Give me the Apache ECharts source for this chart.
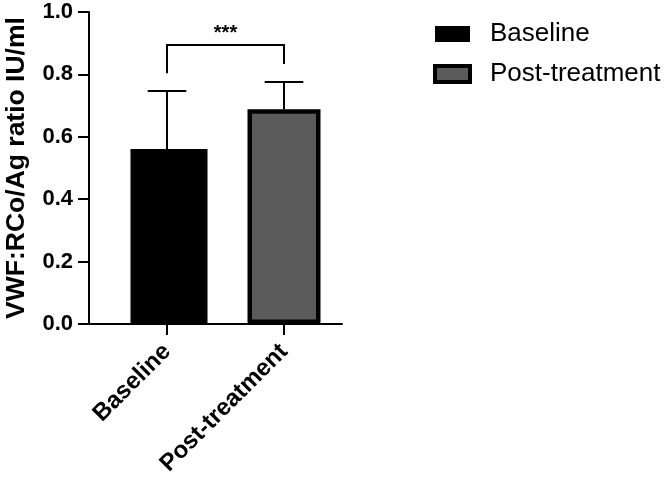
<!DOCTYPE html>
<html>
<head>
<meta charset="utf-8">
<script src="https://cdn.jsdelivr.net/npm/echarts@6/dist/echarts.min.js"></script>
<style>
  html, body { margin: 0; padding: 0; background: #fff; }
  #chart { width: 664px; height: 480px; }
</style>
</head>
<body>
<div id="chart"></div>
<script>
// data
var groups = ['Baseline', 'Post-treatment'];
var means = [0.561, 0.688];
var upperSD = [0.747, 0.776];
// significance bracket: [from idx, to idx, top, left end, right end, star height]
var bracket = [[0, 1, 0.894, 0.804, 0.833, 0.93]];
var sigLabel = '***';

var FONT = 'Liberation Sans, Arial, sans-serif';
var chart = echarts.init(document.getElementById('chart'));

var errData = groups.map(function (g, i) { return [i, means[i], upperSD[i]]; });

var option = {
    animation: false,
    backgroundColor: '#fff',
    legend: {
        orient: 'vertical',
        left: 433,
        top: 21,
        padding: 0,
        itemWidth: 35,
        itemHeight: 16,
        itemGap: 14,
        icon: 'rect',
        textStyle: { fontFamily: FONT, fontSize: 26, color: '#000', padding: [0, 0, 0, 15] },
        data: [
            { name: groups[0], itemStyle: { color: '#000', borderWidth: 0 } },
            { name: groups[1], itemStyle: { color: '#5b5b5b', borderColor: '#000', borderWidth: 4 } }
        ]
    },
    grid: [
        { left: 89, width: 253, top: 12, bottom: 156 },
        { left: 108.5, width: 234, top: 12, bottom: 156 }
    ],
    xAxis: [
        {
            gridIndex: 0, type: 'value', min: 0, max: 1,
            axisLine: { show: true, lineStyle: { color: '#000', width: 2 } },
            axisTick: { show: false }, axisLabel: { show: false }, splitLine: { show: false }
        },
        {
            gridIndex: 1, type: 'category', data: groups,
            axisLine: { show: false },
            axisTick: { show: true, alignWithLabel: true, length: 11, lineStyle: { color: '#000', width: 2 } },
            axisLabel: {
                rotate: 45, margin: 24, color: '#000',
                fontFamily: FONT, fontWeight: 'bold', fontSize: 24
            }
        }
    ],
    yAxis: [
        {
            gridIndex: 0, type: 'value', min: 0, max: 1, interval: 0.2,
            name: 'VWF:RCo/Ag ratio IU/ml',
            nameLocation: 'middle', nameGap: 59,
            nameTextStyle: { fontFamily: FONT, fontWeight: 'bold', fontSize: 26.5, color: '#000' },
            axisLine: { show: true, lineStyle: { color: '#000', width: 2 } },
            axisTick: { show: true, length: 11, lineStyle: { color: '#000', width: 2 } },
            axisLabel: {
                margin: 16, color: '#000', fontFamily: FONT, fontWeight: 'bold', fontSize: 22,
                formatter: function (v) { return v.toFixed(1); }
            },
            splitLine: { show: false }
        },
        {
            gridIndex: 1, type: 'value', min: 0, max: 1, show: false
        }
    ],
    series: [
        {
            name: groups[0], type: 'bar', xAxisIndex: 1, yAxisIndex: 1,
            barWidth: 77, barGap: '-100%',
            itemStyle: { color: '#000' },
            data: [means[0], '-']
        },
        {
            name: groups[1], type: 'bar', xAxisIndex: 1, yAxisIndex: 1,
            barWidth: 73, barGap: '-100%',
            itemStyle: { color: '#5b5b5b', borderColor: '#000', borderWidth: 4.5 },
            data: ['-', means[1]]
        },
        {
            type: 'custom', xAxisIndex: 1, yAxisIndex: 1, z: 1,
            data: errData,
            renderItem: function (params, api) {
                var x = api.value(0);
                var base = api.coord([x, api.value(1)]);
                var top = api.coord([x, api.value(2)]);
                var half = api.size([1, 0])[0] * 0.165;
                var st = { stroke: '#000', lineWidth: 2 };
                return {
                    type: 'group', children: [
                        { type: 'line', shape: { x1: top[0], y1: base[1], x2: top[0], y2: top[1] }, style: st },
                        { type: 'line', shape: { x1: top[0] - half, y1: top[1], x2: top[0] + half, y2: top[1] }, style: st }
                    ]
                };
            }
        },
        {
            type: 'custom', xAxisIndex: 1, yAxisIndex: 1,
            data: bracket,
            renderItem: function (params, api) {
                var a = api.coord([api.value(0), api.value(2)]);
                var b = api.coord([api.value(1), api.value(2)]);
                var la = api.coord([api.value(0), api.value(3)]);
                var rb = api.coord([api.value(1), api.value(4)]);
                var sy = api.coord([api.value(0), api.value(5)])[1];
                return {
                    type: 'group', children: [
                        {
                            type: 'polyline',
                            shape: { points: [[la[0], la[1]], [a[0], a[1]], [b[0], b[1]], [rb[0], rb[1]]] },
                            style: { stroke: '#000', lineWidth: 2, fill: null }
                        },
                        {
                            type: 'text',
                            style: {
                                x: (a[0] + b[0]) / 2, y: sy, text: sigLabel, align: 'center', verticalAlign: 'middle',
                                fontFamily: FONT, fontWeight: 'bold', fontSize: 20, fill: '#000'
                            }
                        }
                    ]
                };
            }
        }
    ]
};

chart.setOption(option);
</script>
</body>
</html>
